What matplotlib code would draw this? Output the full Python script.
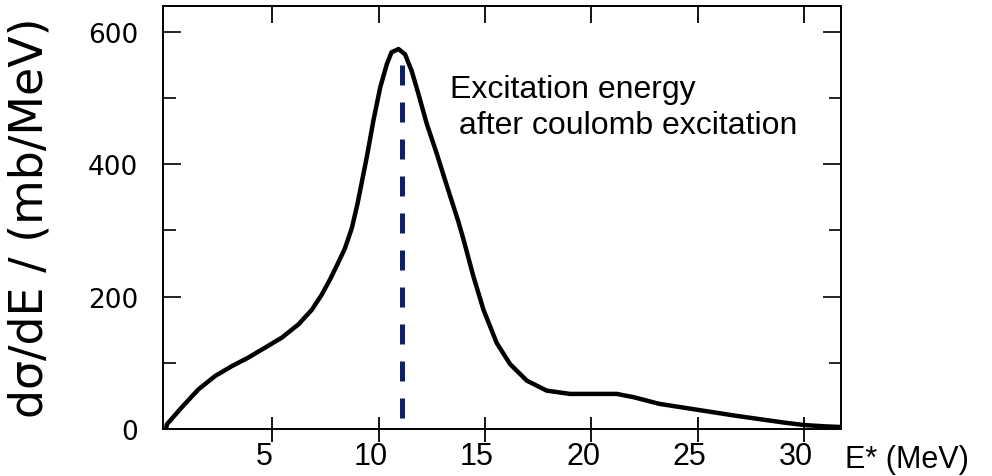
import matplotlib
matplotlib.use("Agg")
from matplotlib import pyplot as plt
from matplotlib import transforms
from matplotlib.ticker import MultipleLocator

# values
energy = [0, 0.03, 0.74, 1.52, 2.3, 3.09, 3.87, 4.66, 5.44, 6.22, 6.85,
          7.32, 7.71, 8.0, 8.4, 8.73, 9.0, 9.13, 9.44, 9.75, 10.07, 10.38, 10.6,
          10.93, 11.24, 11.55, 11.87, 12.26, 12.73, 13.2, 13.5, 13.75, 14.0,
          14.45, 14.93, 15.55, 16.18, 16.97, 17.9, 19.0, 19.94, 21.2, 22.0,
          23.2, 24.4, 25.6, 26.8, 27.9, 29.0, 30.0, 31.0, 31.75]
xsec = [0, 7, 33, 60, 80, 95, 108, 123, 138, 158, 180,
        203, 226, 245, 272, 303, 340, 361, 411, 466, 516, 551, 569,
        574, 566, 541, 506, 461, 416, 368, 338, 313, 285,
        231, 180, 130, 98, 73, 58, 53, 53, 53, 48,
        38, 32, 26, 20, 15, 10, 6, 4, 3]

peak_energy = 11.1
peak_range = [16, 553]

xticks = [5, 10, 15, 20, 25, 30]
yticks = [0, 200, 400, 600]


def main():
    fig = plt.figure(figsize=(9.92, 4.77), dpi=100)
    ax = fig.add_axes([163 / 992, 1 - 430 / 477, (841 - 163) / 992, (430 - 7) / 477])

    ax.plot(energy, xsec, color="black", lw=3.2, solid_capstyle="round",
            solid_joinstyle="round")
    ax.plot([peak_energy, peak_energy], peak_range, color="#102060", lw=3.6,
            dashes=(4, 3.4), dash_capstyle="butt")

    ax.set_xlim(-0.15, 31.75)
    ax.set_ylim(0, 639)

    for s in ax.spines.values():
        s.set_linewidth(1.4)

    ax.set_xticks(xticks)
    ax.set_xticklabels([str(t) for t in xticks], fontfamily="Liberation Sans", fontsize=22)
    ax.tick_params(axis="x", direction="inout", length=18, width=1.3, pad=0,
                   top=False, bottom=True)
    offset = transforms.ScaledTranslation(-8 / 100, 0, fig.dpi_scale_trans)
    for lab in ax.get_xticklabels():
        lab.set_transform(lab.get_transform() + offset)

    # top ticks point inward only
    top = ax.secondary_xaxis("top")
    top.set_xticks(xticks)
    top.tick_params(direction="in", length=12, width=1.3, labeltop=False)
    top.spines["top"].set_linewidth(1.4)

    ax.set_yticks(yticks)
    ax.set_yticklabels([str(t) for t in yticks], fontfamily="DejaVu Sans", fontsize=19)
    ax.yaxis.set_minor_locator(MultipleLocator(100))
    ax.tick_params(axis="y", which="major", direction="in", length=13, width=1.2,
                   pad=18, left=True, right=True)
    ax.tick_params(axis="y", which="minor", direction="in", length=9, width=1.2,
                   left=True, right=True)

    fig.text(30 / 992, 1 - 218 / 477, "d\u03c3/dE / (mb/MeV)", rotation=90,
             fontfamily="DejaVu Sans", fontsize=33, ha="center", va="center")

    fig.text(845 / 992, 1 - 468 / 477, "E* (MeV)", fontfamily="Liberation Sans",
             fontsize=22, ha="left", va="baseline")

    ax.text(13.36, 501, "Excitation energy", fontfamily="Liberation Sans",
            fontsize=23, ha="left", va="baseline")
    ax.text(13.36, 447, " after coulomb excitation", fontfamily="Liberation Sans",
            fontsize=23, ha="left", va="baseline")

    fig.savefig("out.png", dpi=100)


if __name__ == "__main__":
    main()
